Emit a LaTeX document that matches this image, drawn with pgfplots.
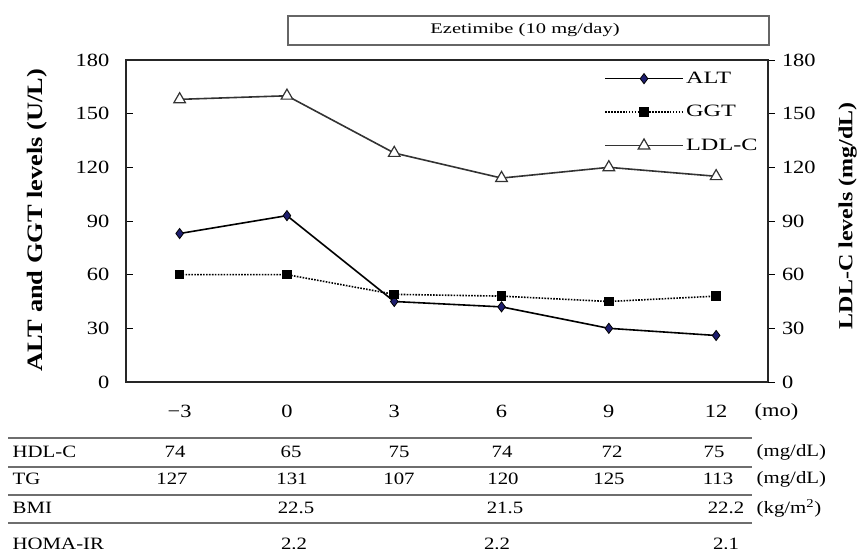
\documentclass[border=0pt]{standalone}
\usepackage{fontspec}
\setmainfont{Liberation Serif}[FakeStretch=1.2]
\newfontfamily\widefont{Liberation Serif}[FakeStretch=1.4]
\usepackage{pgfplots}
\usepackage{pgfplotstable}
\pgfplotsset{compat=1.18}
\definecolor{altblue}{RGB}{30,30,110}
\definecolor{tabline}{RGB}{110,110,110}

\pgfplotstableread{
x ALT GGT LDL
-3 83 60 158
0 93 60 160
3 45 49 128
6 42 48 114
9 30 45 120
12 26 48 115
}\data

\begin{document}
\begin{tikzpicture}[x=0.75pt,y=-0.75pt]
\useasboundingbox (0,0) rectangle (868,549);
\clip (0,0) rectangle (868,549);
\pgfplotsset{
  base/.style={
    scale only axis, width=481.5pt, height=241.5pt,
    at={(94.5pt,-286.5pt)}, anchor=south west,
    xmin=-4.5, xmax=13.45, ymin=0, ymax=180,
    ytick={0,30,...,180},
    /pgf/number format/assume math mode=true,
    major tick length=5pt,
    tick style={black, line width=0.6pt},
    every tick label/.append style={font=\fontsize{14}{14}\selectfont},
    axis line style={line width=1.3pt, black!85},
  },
  altstyle/.style={black, line width=1.2pt, mark=diamond*, mark size=3.8pt, mark options={solid, fill=altblue, draw=black, line width=0.6pt}},
  ggtstyle/.style={black, line width=1.2pt, densely dotted, mark=square*, mark size=3pt, mark options={solid, fill=black}},
  ldlstyle/.style={black!80, line width=1.2pt, mark=triangle*, mark size=5pt, mark options={solid, fill=white, draw=black!80, line width=0.9pt}},
}
\begin{axis}[base,
  xtick={-3,0,3,6,9,12},
  xticklabels={−3,0,3,6,9,12},
  xtick style={draw=none},
  xticklabel style={yshift=-14pt},
  ytick pos=left, tick align=inside,
  yticklabel style={xshift=-9pt},
  ylabel={\bfseries ALT and GGT levels (U/L)},
  every axis y label/.style={at={(axis description cs:-0.1386,0.503)}, rotate=90, anchor=center, font=\fontsize{16.5}{16.5}\selectfont},
]
\addplot[altstyle] table[x=x,y=ALT] {\data};
\addplot[ggtstyle] table[x=x,y=GGT] {\data};
\end{axis}
\begin{axis}[base,
  axis x line=none, axis y line*=right,
  tick align=outside,
  yticklabel style={xshift=2pt},
  ylabel={\bfseries LDL-C levels (mg/dL)},
  every axis y label/.style={at={(axis description cs:1.124,0.516)}, rotate=90, anchor=center, font=\fontsize{15}{15}\selectfont},
  legend style={at={(axis description cs:0.745,0.972)}, anchor=north west, draw=none, fill=none,
    font=\widefont\fontsize{13}{13}\selectfont, row sep=11pt, inner sep=0pt},
  legend cell align=left,
  legend image code/.code={\draw[#1, mark=none] (0pt,0pt) -- (58pt,0pt); \draw[#1] plot coordinates {(29pt,0pt)};},
]
\addlegendimage{altstyle}
\addlegendentry{ALT}
\addlegendimage{ggtstyle}
\addlegendentry{GGT}
\addplot[ldlstyle] table[x=x,y=LDL] {\data};
\addlegendentry{LDL-C}
\end{axis}

% treatment bar
\draw[black!60, line width=1pt] (288,16) rectangle (769,45);
\node[font=\widefont\fontsize{11}{11}\selectfont] at (525,30) {Ezetimibe (10 mg/day)};

% x unit
\node[anchor=west, font=\fontsize{14}{14}\selectfont] at (750,412) {(mo)};

% table
\foreach \yy in {438,467,495,523} {\draw[tabline, line width=1.4pt] (8,\yy) -- (752,\yy);}
\begin{scope}[every node/.style={font=\fontsize{13}{13}\selectfont}]
\node[anchor=west] at (8,452) {HDL-C};
\node[anchor=west] at (8,479) {TG};
\node[anchor=west] at (8,508) {BMI};
\node[anchor=west] at (8,544) {HOMA-IR};
\foreach \xx/\v in {175/74,291/65,399/75,502/74,612/72,714/75} {\node at (\xx,452) {\v};}
\foreach \xx/\v in {172/127,292/131,399/107,503/120,609/125,718/113} {\node at (\xx,479) {\v};}
\foreach \xx/\v in {296/22.5,505/21.5,726/22.2} {\node at (\xx,508) {\v};}
\foreach \xx/\v in {294/2.2,497/2.2,726/2.1} {\node at (\xx,544) {\v};}
\node[anchor=west] at (752,452) {(mg/dL)};
\node[anchor=west] at (752,479) {(mg/dL)};
\node[anchor=west] at (752,508) {(kg/m\textsuperscript{2})};
\end{scope}
\end{tikzpicture}
\end{document}
